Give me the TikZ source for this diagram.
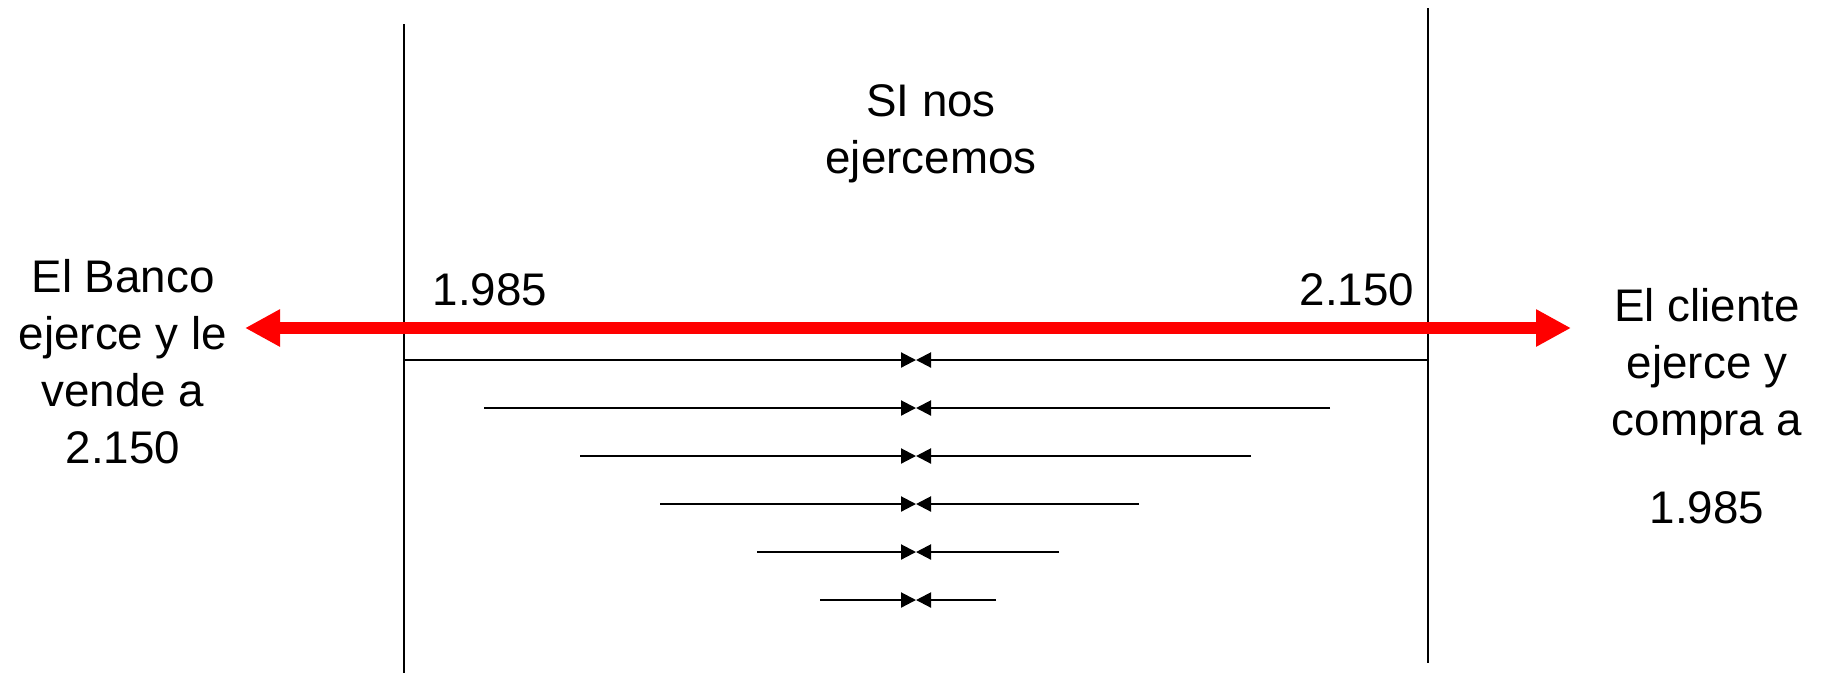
\documentclass[tikz,border=0pt]{standalone}
\usepackage{fontspec}
\setmainfont{Liberation Sans}
\usetikzlibrary{arrows.meta}

\begin{document}
\begin{tikzpicture}[
        x=0.01cm, y=-0.01cm,
        txt/.style={align=center, inner sep=0pt, font=\fontsize{13}{16.2}\selectfont},
        bound/.style={draw, line width=0.8pt},
        ray/.style={{Triangle[length=0.35cm, width=0.35cm]}-{Triangle[length=0.35cm, width=0.35cm]}, draw=red, line width=0.12cm},
        conv/.style={-{Triangle[length=0.15cm, width=0.15cm]}, line width=0.6pt}
    ]
    \useasboundingbox (0,0) rectangle (1825,675);

    \coordinate (LowTop) at (404,24);
    \coordinate (LowBot) at (404,673);
    \coordinate (UpTop) at (1428,8);
    \coordinate (UpBot) at (1428,663);
    \draw[bound] (LowTop) -- (LowBot);
    \draw[bound] (UpTop) -- (UpBot);

    \coordinate (BankTip) at (245,328);
    \coordinate (ClientTip) at (1571,328);
    \draw[ray] (BankTip) -- (ClientTip);

    \node[txt, anchor=base] (Exercise) at (931,173) {SI nos\\ejercemos};
    \node[txt, anchor=base] (Bank) at (123,463) {El Banco\\ejerce y le\\vende a\\2.150};
    \node[txt, anchor=base] (Client) at (1707,523) {El cliente\\ejerce y\\compra a\\[0.31cm]1.985};
    \node[txt, anchor=base] (Low) at (490,305) {1.985};
    \node[txt, anchor=base] (Up) at (1357,305) {2.150};

    \foreach \y/\l/\r [count=\i] in {360/404/1428, 408/484/1330, 456/580/1251, 504/660/1139, 552/757/1059, 600/820/996} {
        \coordinate (L\i) at (\l,\y);
        \coordinate (M\i) at (916,\y);
        \coordinate (R\i) at (\r,\y);
        \draw[conv] (L\i) -- (M\i);
        \draw[conv] (R\i) -- (M\i);
    }
\end{tikzpicture}
\end{document}
